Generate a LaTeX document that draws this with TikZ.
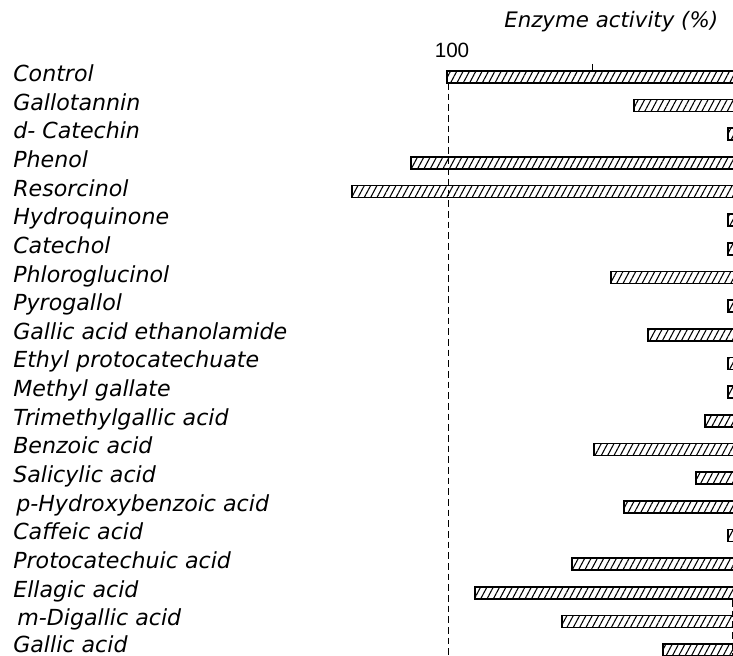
\documentclass[tikz,border=0pt]{standalone}
\usepackage{fontspec}
\setmainfont{DejaVu Sans}
\newfontfamily\numfont{Liberation Sans}
\usetikzlibrary{patterns.meta}

\tikzset{
  bar/.style={draw,line width=1.3pt,fill=white,
    pattern={Lines[angle=62,distance=4.2pt,line width=0.8pt]}},
  lbl/.style={anchor=base west,inner sep=0pt,font=\fontsize{16.6}{16.6}\selectfont\itshape},
  axis/.style={line width=0.7pt}
}

\begin{document}
\begin{tikzpicture}[x=0.75pt,y=-0.75pt]
  \useasboundingbox (0,0) rectangle (733,656);
  \clip (0,0) rectangle (733,656);

  % axis
  \node[lbl,font=\fontsize{16}{16}\selectfont\itshape] (title) at (504,28) {Enzyme activity (\%)};
  \node[anchor=base,inner sep=0pt,font=\numfont\fontsize{15.5}{15.5}\selectfont] (hundred) at (452,58) {100};
  \draw[axis] (592,64) -- (592,71);
  \draw[axis,dash pattern=on 5pt off 3pt] (448,83) -- (448,656);
  \draw[axis,dash pattern=on 5pt off 3pt] (732,600) -- (732,656);

  % bars
  \draw[bar] (447,71.0)  rectangle (745,83.0);
  \draw[bar] (634,99.6)  rectangle (745,111.6);
  \draw[bar] (728,128.3) rectangle (745,140.3);
  \draw[bar] (411,157.0) rectangle (745,169.0);
  \draw[bar] (352,185.6) rectangle (745,197.6);
  \draw[bar] (728,214.3) rectangle (745,226.3);
  \draw[bar] (728,242.9) rectangle (745,254.9);
  \draw[bar] (611,271.6) rectangle (745,283.6);
  \draw[bar] (728,300.2) rectangle (745,312.2);
  \draw[bar] (648,328.9) rectangle (745,340.9);
  \draw[bar] (728,357.5) rectangle (745,369.5);
  \draw[bar] (728,386.2) rectangle (745,398.2);
  \draw[bar] (705,414.8) rectangle (745,426.8);
  \draw[bar] (594,443.5) rectangle (745,455.5);
  \draw[bar] (696,472.1) rectangle (745,484.1);
  \draw[bar] (624,500.8) rectangle (745,512.8);
  \draw[bar] (728,529.4) rectangle (745,541.4);
  \draw[bar] (572,558.1) rectangle (745,570.1);
  \draw[bar] (475,586.7) rectangle (745,598.7);
  \draw[bar] (562,615.4) rectangle (745,627.4);
  \draw[bar] (663,644.0) rectangle (745,656.0);

  % labels
  \node[lbl] (control)      at (13,81.5)  {Control};
  \node[lbl] (gallotannin)  at (13,110.1) {Gallotannin};
  \node[lbl] (catechin)     at (13,138.8) {d- Catechin};
  \node[lbl] (phenol)       at (13,167.5) {Phenol};
  \node[lbl] (resorcinol)   at (13,196.1) {Resorcinol};
  \node[lbl] (hydroquinone) at (13,224.8) {Hydroquinone};
  \node[lbl] (catechol)     at (13,253.4) {Catechol};
  \node[lbl] (phloro)       at (13,282.1) {Phloroglucinol};
  \node[lbl] (pyrogallol)   at (13,310.7) {Pyrogallol};
  \node[lbl] (ethanolamide) at (13,339.4) {Gallic acid ethanolamide};
  \node[lbl] (ethyl)        at (13,368.0) {Ethyl protocatechuate};
  \node[lbl] (methyl)       at (13,396.7) {Methyl gallate};
  \node[lbl] (trimethyl)    at (13,425.3) {Trimethylgallic acid};
  \node[lbl] (benzoic)      at (13,454.0) {Benzoic acid};
  \node[lbl] (salicylic)    at (13,482.6) {Salicylic acid};
  \node[lbl] (hydroxy)      at (16,511.3) {p-Hydroxybenzoic acid};
  \node[lbl] (caffeic)      at (13,539.9) {Caffeic acid};
  \node[lbl] (proto)        at (13,568.6) {Protocatechuic acid};
  \node[lbl] (ellagic)      at (13,597.2) {Ellagic acid};
  \node[lbl] (digallic)     at (17,625.9) {m-Digallic acid};
  \node[lbl] (gallic)       at (13,652.5) {Gallic acid};
\end{tikzpicture}
\end{document}
